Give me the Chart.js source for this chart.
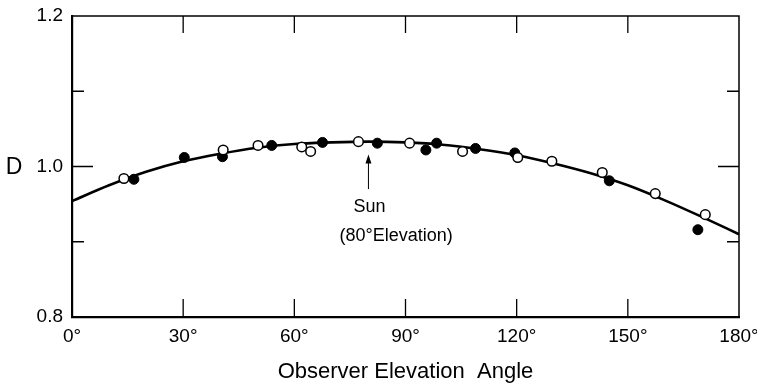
<!DOCTYPE html>
<html>
<head>
<meta charset="utf-8">
<script src="https://cdn.jsdelivr.net/npm/chart.js@4"></script>
<style>
  html, body { margin: 0; padding: 0; background: #fff; }
  #wrap { width: 757px; height: 390px; }
</style>
</head>
<body>
<div id="wrap"><canvas id="chart" width="757" height="390"></canvas></div>
<script>
// values
const openAngle = [14.0, 40.8, 50.2, 62.0, 64.4, 77.3, 91.1, 105.4, 120.3, 129.5, 143.1, 157.4, 170.9]
const openD = [0.984, 1.022, 1.028, 1.026, 1.020, 1.033, 1.031, 1.020, 1.012, 1.007, 0.992, 0.964, 0.936]

const filledAngle = [16.7, 30.3, 40.6, 53.9, 67.6, 82.4, 95.5, 98.4, 108.9, 119.5, 145.0, 168.9]
const filledD = [0.983, 1.012, 1.013, 1.028, 1.032, 1.031, 1.022, 1.031, 1.024, 1.018, 0.981, 0.916]

const curveAngle = [0, 10, 20, 30, 40, 50, 60, 70, 80, 90, 100, 110, 120, 130, 140, 150, 160, 170, 180]
const curveD = [0.954, 0.975, 0.993, 1.007, 1.017, 1.025, 1.030, 1.032, 1.033, 1.032, 1.029, 1.023, 1.015, 1.004, 0.991, 0.975, 0.955, 0.933, 0.910]

const xTicks = [0, 30, 60, 90, 120, 150, 180]
const yLabelled = [0.8, 1.0, 1.2]
const yMinor = [0.9, 1.1]

const sunAngle = 80
const sunD = [1.016, 0.970]   // arrow head / tail

const FONT = "'Liberation Sans', Arial, sans-serif"

function pts(xs, ys){
  return xs.map((x, i) => ({ x: x, y: ys[i] }))
}

// frame, inward ticks, "D" label and the Sun note
const decor = {
  id: 'decor',
  afterDraw(chart){
    const ctx = chart.ctx
    const a = chart.chartArea
    const xs = chart.scales.x
    const ys = chart.scales.y
    ctx.save()
    ctx.strokeStyle = '#000'

    // top & right frame
    ctx.lineWidth = 1.5
    ctx.beginPath()
    ctx.moveTo(a.left, a.top); ctx.lineTo(a.right, a.top); ctx.lineTo(a.right, a.bottom)
    ctx.stroke()

    // x ticks, bottom and top
    ctx.lineWidth = 1.3
    xTicks.slice(1, -1).forEach(v => {
      const px = xs.getPixelForValue(v)
      ctx.beginPath()
      ctx.moveTo(px, a.bottom); ctx.lineTo(px, a.bottom - 18)
      ctx.moveTo(px, a.top); ctx.lineTo(px, a.top + 17)
      ctx.stroke()
    })
    // y ticks, left and right
    const yt = [[yMinor[0], 12], [1.0, 21], [yMinor[1], 12]]
    yt.forEach(([v, len]) => {
      const py = ys.getPixelForValue(v)
      ctx.beginPath()
      ctx.moveTo(a.left, py); ctx.lineTo(a.left + len, py)
      ctx.moveTo(a.right, py); ctx.lineTo(a.right - len, py)
      ctx.stroke()
    })

    // D
    ctx.fillStyle = '#000'
    ctx.font = '23px ' + FONT
    ctx.textAlign = 'center'
    ctx.textBaseline = 'middle'
    ctx.fillText('D', 14, ys.getPixelForValue(1.0) + 1)

    // Sun arrow
    const ax = xs.getPixelForValue(sunAngle)
    const y1 = ys.getPixelForValue(sunD[0])
    const y2 = ys.getPixelForValue(sunD[1])
    ctx.lineWidth = 1
    ctx.beginPath()
    ctx.moveTo(ax, y1 + 4); ctx.lineTo(ax, y2)
    ctx.stroke()
    ctx.beginPath()
    ctx.moveTo(ax, y1); ctx.lineTo(ax - 3, y1 + 9); ctx.lineTo(ax + 3, y1 + 9)
    ctx.closePath()
    ctx.fill()

    ctx.font = '18px ' + FONT
    ctx.textAlign = 'left'
    ctx.fillText('Sun', ax - 15, y2 + 18)
    ctx.fillText('(80°Elevation)', ax - 29, y2 + 47)
    ctx.restore()
  }
}

new Chart(document.getElementById('chart'), {
  type: 'scatter',
  data: {
    datasets: [
      {
        type: 'line',
        label: 'fit',
        data: pts(curveAngle, curveD),
        borderColor: '#000',
        borderWidth: 2.6,
        pointRadius: 0,
        tension: 0.4,
        cubicInterpolationMode: 'monotone',
        fill: false,
        order: 3
      },
      {
        label: 'open',
        data: pts(openAngle, openD),
        pointRadius: 4.8,
        pointBackgroundColor: '#fff',
        pointBorderColor: '#000',
        pointBorderWidth: 1.5,
        order: 1
      },
      {
        label: 'filled',
        data: pts(filledAngle, filledD),
        pointRadius: 5,
        pointBackgroundColor: '#000',
        pointBorderColor: '#000',
        pointBorderWidth: 1,
        order: 2
      }
    ]
  },
  options: {
    responsive: false,
    animation: false,
    devicePixelRatio: 1,
    layout: { padding: { top: 16, right: 18, left: 0, bottom: 0 } },
    plugins: {
      legend: { display: false },
      tooltip: { enabled: false }
    },
    scales: {
      x: {
        type: 'linear',
        min: 0,
        max: 180,
        afterFit: s => { s.height = 73; s.paddingLeft = 0; s.paddingRight = 0 },
        afterBuildTicks: s => { s.ticks = xTicks.map(v => ({ value: v })) },
        grid: { display: false, drawTicks: false },
        border: { display: true, color: '#000', width: 2.2 },
        ticks: {
          color: '#000',
          font: { family: FONT, size: 19 },
          padding: 8,
          maxRotation: 0,
          callback: v => v + '°'
        },
        title: {
          display: true,
          text: 'Observer Elevation  Angle',
          color: '#000',
          font: { family: FONT, size: 22 },
          padding: { top: 0, bottom: 5 }
        }
      },
      y: {
        min: 0.8,
        max: 1.2,
        afterFit: s => { s.width = 72; s.paddingTop = 0; s.paddingBottom = 0 },
        afterBuildTicks: s => { s.ticks = yLabelled.map(v => ({ value: v })) },
        grid: { display: false, drawTicks: false },
        border: { display: true, color: '#000', width: 2.2 },
        ticks: {
          color: '#000',
          font: { family: FONT, size: 19 },
          padding: 9,
          callback: v => v.toFixed(1)
        }
      }
    }
  },
  plugins: [decor]
})
</script>
</body>
</html>
